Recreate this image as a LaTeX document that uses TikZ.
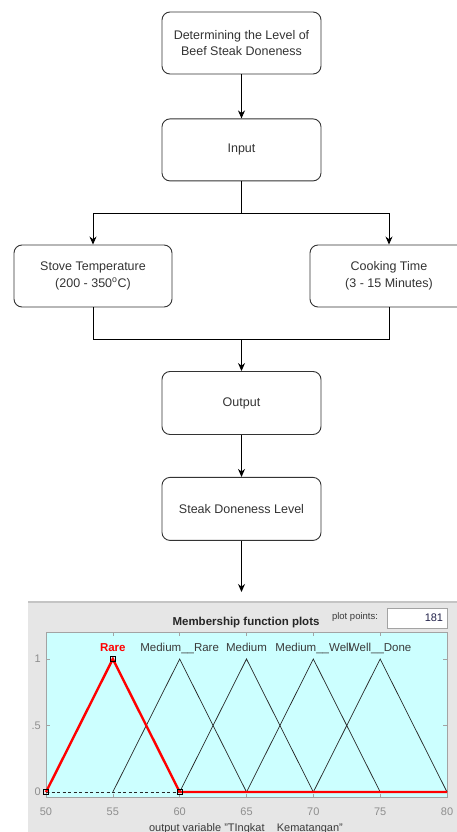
\documentclass[tikz,border=0pt]{standalone}
\usepackage{fontspec}
\setmainfont{Liberation Sans}
\usepackage{xcolor}
\usetikzlibrary{arrows.meta, positioning, calc}

\definecolor{boxline}{HTML}{333333}
\definecolor{panelgray}{HTML}{E6E6E6}
\definecolor{panelrim}{HTML}{C4C4C4}
\definecolor{axcyan}{HTML}{CCFFFF}
\definecolor{axrim}{HTML}{A3A3A3}
\definecolor{ticktext}{HTML}{8E8E8E}
\definecolor{mftext}{HTML}{3A3A3A}
\definecolor{ptstext}{HTML}{22224A}

\begin{document}
\begin{tikzpicture}[
    x=1pt, y=-1pt,
    node distance=44pt and 0pt,
    block/.style={rectangle, draw=boxline, rounded corners=8pt, line width=0.9pt, minimum width=159pt, minimum height=62pt, align=center, text=boxline, font=\fontsize{12.5}{16.5}\selectfont},
    arr/.style={-{Stealth[length=8pt, width=7pt]}, line width=0.9pt},
    link/.style={line width=0.9pt},
    mf/.style={line width=0.7pt, black!85},
    mfsel/.style={line width=2.4pt, red, line join=miter},
    marker/.style={rectangle, draw=black, fill=none, line width=0.7pt, minimum size=4.5pt, inner sep=0pt},
    mflabel/.style={anchor=base, text=mftext, font=\fontsize{11.5}{13}\selectfont, inner sep=0pt},
    ticklabel/.style={text=ticktext, font=\fontsize{11}{13}\selectfont, inner sep=0pt},
]
\useasboundingbox (0,0) rectangle (456,832);

% ---- Flow chart ----
\node[block] (goal) at (241.5,43) {Determining the Level of\\Beef Steak Doneness};
\node[block, below=of goal] (input) {Input};
\node[block, minimum width=158pt] (stove) at (93,276) {Stove Temperature\\(200 - 350\textsuperscript{o}C)};
\node[block, minimum width=158pt] (cook) at (389,276) {Cooking Time\\(3 - 15 Minutes)};
\node[block, minimum height=63pt] (output) at (241.5,403) {Output};
\node[block, minimum height=63pt, below=42pt of output] (level) {Steak Doneness Level};
\coordinate (plottop) at (241.5,592);

% Flow arrows
\draw[arr] (goal.south) -- (input.north);
\draw[link] (input.south) -- ++(0,32) coordinate (fork);
\draw[arr] (fork) -| (stove.north);
\draw[arr] (fork) -| (cook.north);
\draw[link] (stove.south) -- ++(0,32) coordinate (merge) -| (cook.south);
\draw[arr] (merge -| output.north) -- (output.north);
\draw[arr] (output.south) -- (level.north);
\draw[arr] (level.south) -- (plottop);

% ---- Membership function panel ----
\fill[panelgray] (28,602) rectangle (470,840);
\draw[panelrim, line width=1.2pt] (28,602) -- (470,602);
\node[font=\fontsize{11.5}{13}\bfseries, text=black!85] (mftitle) at (246,623) {Membership function plots};
\node[font=\fontsize{9.5}{11}\selectfont, text=mftext] (ptslabel) at (355,617) {plot points:};
\node[draw=axrim, fill=white, line width=0.6pt, minimum width=60pt, minimum height=20pt, inner sep=0pt] (ptsbox) at (417,618) {};
\node[anchor=east, font=\fontsize{11}{13}\selectfont, text=ptstext, inner sep=0pt] (ptsval) at ($(ptsbox.east)+(-4,0)$) {181};

\begin{scope}[xshift=46pt, yshift=-792pt, x=13.367pt, y=133pt]
  % axes
  \draw[fill=axcyan, draw=axrim, line width=1pt] (0,-0.045) rectangle (30,1.203);
  \foreach \v in {0,5,...,30} {
    \pgfmathtruncatemacro{\lab}{50+\v}
    \draw[axrim, line width=0.6pt] (\v,-0.045) -- ++(0,0.03);
    \draw[axrim, line width=0.6pt] (\v,1.203) -- ++(0,-0.03);
    \node[ticklabel, anchor=base] (xt\v) at (\v,-0.18) {\lab};
  }
  \foreach \m in {0,0.5,1} {
    \draw[axrim, line width=0.6pt] (0,\m) -- ++(0.3,0);
    \draw[axrim, line width=0.6pt] (30,\m) -- ++(-0.3,0);
  }
  \node[ticklabel, anchor=east] (yt0) at (-0.37,0) {0};
  \node[ticklabel, anchor=east] (yt5) at (-0.37,0.5) {.5};
  \node[ticklabel, anchor=east] (yt1) at (-0.37,1) {1};

  % membership functions
  \draw[mf, dash pattern=on 3pt off 2.5pt] (0,0) -- (10,0);
  \foreach \c in {10,15,20,25}
    \draw[mf] ({\c-5},0) -- (\c,1) -- ({\c+5},0);
  \draw[mfsel] (0,0) -- (5,1) -- (10,0) -- (30,0);
  \foreach \p/\i in {{(0,0)}/a, {(5,1)}/b, {(10,0)}/c}
    \node[marker] (mk\i) at \p {};

  % labels
  \node[mflabel, text=red, font=\fontsize{11.5}{13}\bfseries] (lrare) at (5,1.053) {Rare};
  \node[mflabel] (lmrare) at (10,1.053) {Medium\_\_Rare};
  \node[mflabel] (lmed) at (15,1.053) {Medium};
  \node[mflabel] (lmwell) at (20,1.053) {Medium\_\_Well};
  \node[mflabel] (lwell) at (25,1.053) {Well\_\_Done};
\end{scope}

\node[anchor=base, font=\fontsize{11}{13}\selectfont, text=mftext, inner sep=0pt] (xlabel) at (246,831) {output variable "TIngkat\_\_Kematangan"};

\end{tikzpicture}
\end{document}
